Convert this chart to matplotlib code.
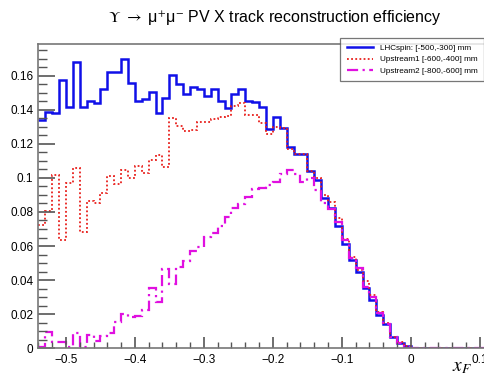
import numpy as np
import matplotlib
matplotlib.use('Agg')
import matplotlib.pyplot as plt
from matplotlib.ticker import MultipleLocator

plt.rcParams['font.family'] = ['Liberation Sans', 'DejaVu Sans']
plt.rcParams['mathtext.fontset'] = 'stix'

# bins of 0.01 in x_F starting at -0.54
x_lo = -0.54
bin_w = 0.01

lhcspin = [0.134, 0.1388, 0.1379, 0.1574, 0.1418, 0.1682, 0.1418, 0.1451, 0.1441, 0.152,
           0.1623, 0.1623, 0.170, 0.1558, 0.1451, 0.1461, 0.1502, 0.1383, 0.1467, 0.1604,
           0.1549, 0.1492, 0.1535, 0.152, 0.148, 0.152, 0.1449, 0.1408, 0.149, 0.152,
           0.1453, 0.1447, 0.1416, 0.1289, 0.1359, 0.1291, 0.118, 0.1138, 0.1138, 0.104,
           0.0986, 0.088, 0.0822, 0.0719, 0.0612, 0.0518, 0.045, 0.0357, 0.0286, 0.0196,
           0.0142, 0.0069, 0.0034, 0.0012, 0, 0, 0, 0, 0, 0, 0, 0, 0, 0, 0]

upstream1 = [0.0724, 0.0808, 0.1017, 0.0636, 0.0968, 0.1056, 0.0685, 0.0866, 0.0851, 0.091,
             0.1011, 0.0962, 0.1046, 0.0998, 0.1072, 0.1027, 0.1105, 0.1134, 0.1066, 0.135,
             0.1304, 0.1277, 0.128, 0.1328, 0.1328, 0.1344, 0.1355, 0.1365, 0.1422, 0.1441,
             0.1369, 0.1369, 0.132, 0.126, 0.1297, 0.1295, 0.1168, 0.114, 0.114, 0.1042,
             0.0998, 0.09, 0.086, 0.0763, 0.064, 0.0538, 0.046, 0.0395, 0.0313, 0.0215,
             0.0147, 0.0067, 0.0036, 0.0012, 0, 0, 0, 0, 0, 0, 0, 0, 0, 0, 0]

upstream2 = [0.001, 0.0098, 0.0039, 0.0039, 0.001, 0.0088, 0.001, 0.0079, 0.0045, 0.0073,
             0.0088, 0.0157, 0.0202, 0.0186, 0.019, 0.0225, 0.0356, 0.0274, 0.0464, 0.0378,
             0.0476, 0.0514, 0.0571, 0.0597, 0.0652, 0.0675, 0.072, 0.0769, 0.0822, 0.0847,
             0.0885, 0.0934, 0.094, 0.096, 0.0978, 0.1022, 0.1046, 0.102, 0.0975, 0.1,
             0.093, 0.0855, 0.0816, 0.0743, 0.0636, 0.0528, 0.047, 0.0362, 0.0303, 0.0206,
             0.0143, 0.0065, 0.0034, 0.001, 0, 0, 0, 0, 0, 0, 0, 0, 0, 0, 0]

labels = ['LHCspin: [-500,-300] mm', 'Upstream1 [-600,-400] mm', 'Upstream2 [-800,-600] mm']

edges = x_lo + bin_w * np.arange(len(lhcspin) + 1)

fig = plt.figure(figsize=(4.85, 3.73), dpi=100)
ax = fig.add_axes([0.079, 0.066, 0.921, 0.816])

ax.stairs(lhcspin, edges, baseline=None, color='#1010e8', lw=1.8, label=labels[0])
ax.stairs(upstream1, edges, baseline=None, color='#e8201c', lw=1.3, ls=(0, (1, 1.3)), label=labels[1])
ax.stairs(upstream2, edges, baseline=None, color='#e010e0', lw=1.6, ls=(0, (5, 2, 1, 2)), label=labels[2])

ax.set_xlim(-0.54, 0.1075)
ax.set_ylim(0, 0.1785)

ax.xaxis.set_major_locator(MultipleLocator(0.1))
ax.xaxis.set_minor_locator(MultipleLocator(0.02))
ax.yaxis.set_major_locator(MultipleLocator(0.02))
ax.yaxis.set_minor_locator(MultipleLocator(0.005))
ax.set_xticks([-0.5, -0.4, -0.3, -0.2, -0.1, 0, 0.1])
ax.set_xticklabels(['\u22120.5', '\u22120.4', '\u22120.3', '\u22120.2', '\u22120.1', '0', '0.1'])
ax.set_yticks([0, 0.02, 0.04, 0.06, 0.08, 0.1, 0.12, 0.14, 0.16])
ax.set_yticklabels(['0', '0.02', '0.04', '0.06', '0.08', '0.1', '0.12', '0.14', '0.16'])

ax.tick_params(axis='both', which='both', direction='in', colors='#555555', labelcolor='black', labelsize=8.5)
ax.tick_params(axis='y', which='major', length=12, width=1.2)
ax.tick_params(axis='y', which='minor', length=6.5, width=1)
ax.tick_params(axis='x', which='major', length=8, width=1.2, pad=4)
ax.tick_params(axis='x', which='minor', length=4, width=1)
for s in ax.spines.values():
    s.set_color('#777777')
    s.set_linewidth(1.2)

# legend box pokes above the frame, as in the ROOT canvas
leg = ax.legend(loc='upper right', bbox_to_anchor=(0.998, 0.899), bbox_transform=fig.transFigure,
                fontsize=5.9, frameon=True, fancybox=False, edgecolor='#555555', borderaxespad=0,
                handlelength=3.2, handletextpad=0.9, labelspacing=0.5, borderpad=0.75)
leg.get_frame().set_linewidth(0.9)

fig.text(0.567, 0.952, r'$\Upsilon$ $\rightarrow$ μ$^{+}$μ$^{-}$ PV X track reconstruction efficiency',
         ha='center', va='center', fontsize=11.5)
fig.text(0.953, 0.016, r'$x_{F}$', ha='center', va='center', fontsize=14)

fig.savefig('out.png', dpi=100)
